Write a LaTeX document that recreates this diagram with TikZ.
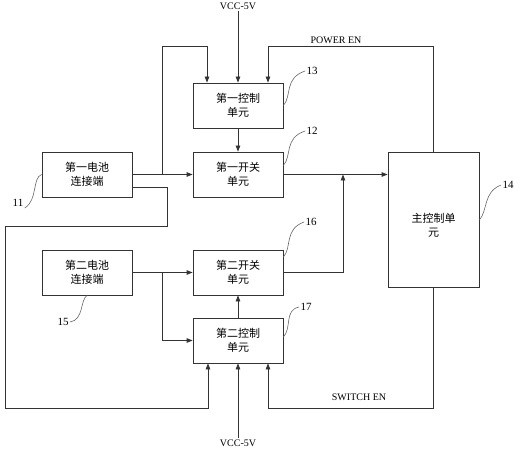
\documentclass[tikz,border=0pt]{standalone}
\usepackage{fontspec}
\setmainfont{Liberation Serif}
\newfontfamily\cjk{Noto Sans CJK SC}
\usetikzlibrary{arrows.meta,calc}
\begin{document}
\begin{tikzpicture}[x=1bp,y=-1bp,
  line width=0.8bp,
  blk/.style={draw=black!80,rectangle,minimum width=90bp,minimum height=45bp,inner sep=0pt,
    font=\cjk\fontsize{11bp}{14bp}\selectfont,align=center},
  arr/.style={draw=black!80,-{Triangle[length=6bp,width=4.5bp]}},
  lead/.style={draw=black!60,line width=0.6bp},
  lbl/.style={font=\fontsize{10bp}{12bp}\selectfont,inner sep=1bp},
  num/.style={font=\fontsize{11bp}{12bp}\selectfont,inner sep=1bp}]
\useasboundingbox (0,0) rectangle (520,450);
% boxes
\node[blk] (b13) at (238,105.5) {第一控制\\单元};
\node[blk] (b12) at (238,174.5) {第一开关\\单元};
\node[blk] (b11) at (87,174.5) {第一电池\\连接端};
\node[blk,minimum width=91bp,minimum height=135bp] (b14) at (433.5,219.5) {\rule{0pt}{21bp}主控制单\\元};
\node[blk] (b15) at (87,272.5) {第二电池\\连接端};
\node[blk] (b16) at (238,272.5) {第二开关\\单元};
\node[blk] (b17) at (238,340.5) {第二控制\\单元};
% texts
\node[lbl] (vcc1) at (238,6) {VCC-5V};
\node[lbl] (vcc2) at (238,443) {VCC-5V};
\node[lbl] (pen) at (336,40) {POWER EN};
\node[lbl] (sen) at (359,397) {SWITCH EN};
\node[num] (l11) at (18,203) {11};
\node[num] (l13) at (312,71) {13};
\node[num] (l12) at (312,131) {12};
\node[num] (l14) at (508,185) {14};
\node[num] (l16) at (311,222) {16};
\node[num] (l17) at (306,307) {17};
\node[num] (l15) at (63,322) {15};
% helper coordinates
\coordinate (j1) at (162,174.5);
\coordinate (j2) at (343,174.5);
\coordinate (j3) at (162,272.5);
\coordinate (k1) at (167,187);
\coordinate (ytop) at (0,46);
\coordinate (ybot) at (0,408);
\coordinate (x207) at (207,0);
\coordinate (x268) at (268,0);
\coordinate (x208) at (208,0);
\coordinate (x5) at (5,0);
\coordinate (y226) at (0,226);
% connectors
\draw[arr] (vcc1.south) -- (b13.north);
\draw[arr] (b11.east) -- (b12.west);
\draw[arr] (j1) -- (j1 |- ytop) -| (x207 |- b13.north);
\draw[arr] (b14.north) -- (b14.north |- ytop) -| (x268 |- b13.north);
\draw[arr] (b13.south) -- (b12.north);
\draw[arr] (b12.east) -- (b14.west |- b12.east);
\draw[arr] (b16.east) -| (j2);
\draw[arr] (b11.east |- k1) -- (k1) -- (k1 |- y226) -- (x5 |- y226) -- (x5 |- ybot) -- (x208 |- ybot) -- (x208 |- b17.south);
\draw[arr] (b14.south) -- (b14.south |- ybot) -- (x268 |- ybot) -- (x268 |- b17.south);
\draw[arr] (b15.east) -- (b16.west);
\draw[arr] (j3) |- (b17.west);
\draw[arr] (b17.north) -- (b16.south);
\draw[arr] (vcc2.north) -- (b17.south);
% leader squiggles
\draw[lead] (b11.west) .. controls (32,178) and (38,200) .. (l11.south east);
\draw[lead] (b13.east) .. controls (292,96) and (284,78) .. (l13.west);
\draw[lead] ($(b12.east)+(0,-9)$) .. controls (292,156) and (284,138) .. (l12.west);
\draw[lead] ($(b14.east)+(0,0.5)$) .. controls (488,210) and (483,192) .. (l14.west);
\draw[lead] ($(b16.east)+(0,-15.5)$) .. controls (292,248) and (284,229) .. (l16.west);
\draw[lead] ($(b17.east)+(0,-3.5)$) .. controls (292,328) and (284,310) .. (l17.west);
\draw[lead] (b15.south) .. controls (80,300) and (84,320) .. (l15.east);
\end{tikzpicture}
\end{document}
